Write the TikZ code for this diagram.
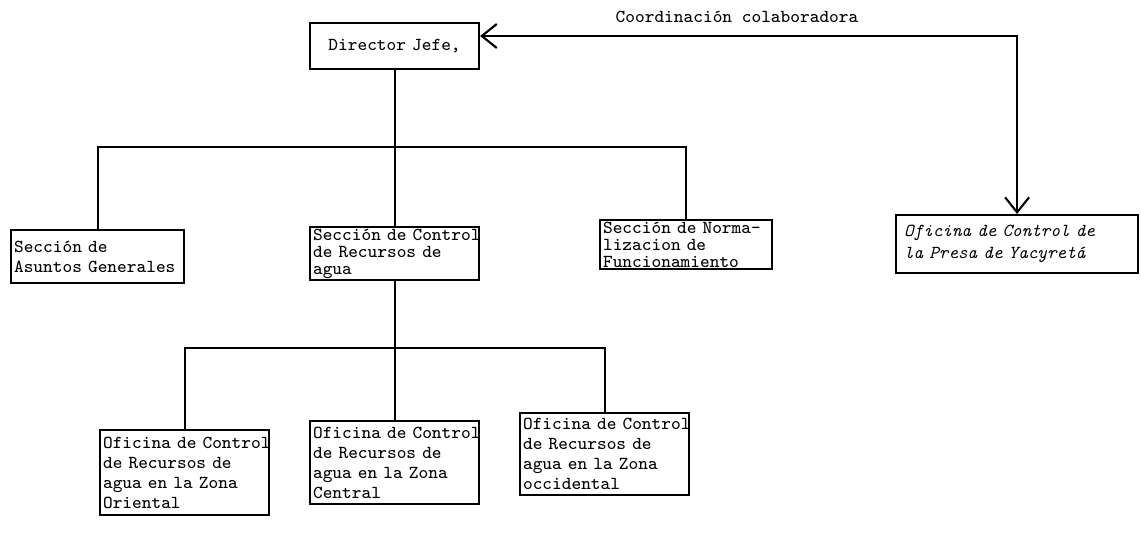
\documentclass[tikz,border=0pt]{standalone}
\usetikzlibrary{arrows.meta}

\begin{document}
\begin{tikzpicture}[>={Straight Barb[length=0.15cm,width=0.24cm]}, line width=0.6pt]
%style for organisation box
\tikzstyle{unitbox} = [rectangle, draw=black, anchor=north west, align=left, inner xsep=0.03cm, inner ysep=0.02cm, text width=1.63cm, font=\ttfamily\fontsize{5.2}{5.7}\selectfont]

%style for three line boxes on the upper row
\tikzstyle{tightbox} = [unitbox, font=\ttfamily\fontsize{5.2}{4.8}\selectfont]

%style for the label text
\tikzstyle{labeltext} = [font=\ttfamily\fontsize{5.2}{5.7}\selectfont]

\useasboundingbox (0,0) rectangle (11.41,-5.37);

%place nodes
\node[unitbox, align=center, minimum height=0.46cm](jefe) at (3.09,-0.22) {Director Jefe,};
\node[labeltext](coord) at (7.37,-0.17) {Coordinación colaboradora};
\node[unitbox, text width=1.67cm, minimum height=0.53cm](asuntos) at (0.10,-2.29) {Sección de\\\mbox{Asuntos Generales}};
\node[tightbox, minimum height=0.51cm](recursos) at (3.09,-2.26) {\mbox{Sección de Control}\\de Recursos de\\agua};
\node[tightbox, text width=1.66cm, minimum height=0.48cm](normal) at (5.99,-2.19) {\mbox{Sección de Norma-}\\lizacion de\\Funcionamiento};
\node[unitbox, inner xsep=0.08cm, text width=2.26cm, minimum height=0.58cm, font=\ttfamily\itshape\fontsize{5.2}{6.2}\selectfont](presa) at (8.95,-2.14) {Oficina de Control de\\la Presa de Yacyretá};
\node[unitbox, minimum height=0.85cm](oriental) at (0.99,-4.29) {\mbox{Oficina de Control}\\de Recursos de\\agua en la Zona\\Oriental};
\node[unitbox, minimum height=0.83cm](central) at (3.09,-4.20) {\mbox{Oficina de Control}\\de Recursos de\\agua en la Zona\\Central};
\node[unitbox, minimum height=0.82cm](occidental) at (5.19,-4.12) {\mbox{Oficina de Control}\\de Recursos de\\agua en la Zona\\occidental};

%junction points
\coordinate (bus1) at (3.935,-1.47);
\coordinate (bus2) at (3.935,-3.48);
\coordinate (corner) at (presa.north |- 0,-0.36);

%connect nodes with lines
\draw (jefe.south) -- (recursos.north);
\draw (asuntos.north) |- (bus1) -| (normal.north);
\draw (recursos.south) -- (central.north);
\draw (oriental.north) |- (bus2) -| (occidental.north);
\draw[<->] (jefe.east |- corner) -- (corner) -- (presa.north);
\end{tikzpicture}
\end{document}
